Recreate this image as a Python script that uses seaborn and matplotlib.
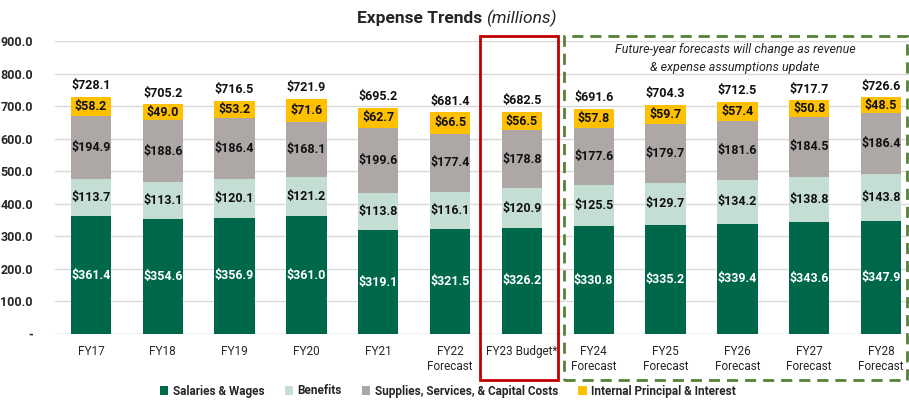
import numpy as np
import pandas as pd
import matplotlib
matplotlib.use("Agg")
import matplotlib.pyplot as plt
import seaborn as sns
from matplotlib.patches import Rectangle, Patch

# ---------------------------------------------------------------------------
# Data (millions)
# ---------------------------------------------------------------------------
years = ["FY17", "FY18", "FY19", "FY20", "FY21", "FY22\nForecast", "FY23 Budget*",
         "FY24\nForecast", "FY25\nForecast", "FY26\nForecast", "FY27\nForecast", "FY28\nForecast"]
salaries = [361.4, 354.6, 356.9, 361.0, 319.1, 321.5, 326.2, 330.8, 335.2, 339.4, 343.6, 347.9]
benefits = [113.7, 113.1, 120.1, 121.2, 113.8, 116.1, 120.9, 125.5, 129.7, 134.2, 138.8, 143.8]
supplies = [194.9, 188.6, 186.4, 168.1, 199.6, 177.4, 178.8, 177.6, 179.7, 181.6, 184.5, 186.4]
interest = [58.2, 49.0, 53.2, 71.6, 62.7, 66.5, 56.5, 57.8, 59.7, 57.4, 50.8, 48.5]
totals = [728.1, 705.2, 716.5, 721.9, 695.2, 681.4, 682.5, 691.6, 704.3, 712.5, 717.7, 726.6]

series = ["Salaries & Wages", "Benefits", "Supplies, Services, & Capital Costs",
          "Internal Principal & Interest"]
colors = ["#00684A", "#C5DED4", "#ADA8A6", "#FFC000"]
label_colors = ["white", "#111111", "#111111", "#111111"]

df = pd.DataFrame({"year": years, series[0]: salaries, series[1]: benefits,
                   series[2]: supplies, series[3]: interest})

sns.set_theme(style="white")
plt.rcParams["font.family"] = ["Roboto", "DejaVu Sans"]

fig = plt.figure(figsize=(9.09, 4.03), dpi=100)
ax = fig.add_axes([55 / 909, 1 - 334 / 403, 862 / 909, 293 / 403])

bottom = np.zeros(len(years))
for name, col, lc in zip(series, colors, label_colors):
    vals = df[name].to_numpy()
    sns.barplot(data=df, x="year", y=name, color=col, bottom=bottom,
                width=0.56, ax=ax, saturation=1, edgecolor="none", zorder=3)
    for i, v in enumerate(vals):
        ax.text(i, bottom[i] + v / 2, f"${v:.1f}", ha="center", va="center",
                color=lc, fontsize=9, fontweight="bold", zorder=4)
    bottom = bottom + vals

for i, t in enumerate(totals):
    ax.text(i, bottom[i] + 14, f"${t:.1f}", ha="center", va="bottom",
            color="#111111", fontsize=9, fontweight="bold")

ax.set_xlim(-0.5, len(years) - 0.5)
ax.set_ylim(0, 900)
ax.set_yticks(np.arange(0, 901, 100))
ax.set_yticklabels(["-"] + [f"{v:.1f}" for v in range(100, 901, 100)],
                   fontweight="bold", fontsize=9)
ax.tick_params(axis="x", labelsize=8.5, length=0, pad=8)
ax.tick_params(axis="y", length=0, pad=16)
ax.set_xlabel("")
ax.set_ylabel("")
ax.yaxis.grid(True, color="#D9D9D9", linewidth=1, zorder=0)
ax.set_axisbelow(True)
for s in ax.spines.values():
    s.set_visible(False)
ax.axhline(0, color="#D9D9D9", linewidth=1, zorder=1)

# Title
fig.text(0.535, 0.955, "Expense Trends ", ha="right", va="center",
         fontsize=12.5, fontweight="bold")
fig.text(0.535, 0.955, "(millions)", ha="left", va="center",
         fontsize=12.5, fontstyle="italic")

# Highlight boxes (figure coordinates)
fig.patches.append(Rectangle((480 / 909, 1 - 380 / 403), 78 / 909, 344 / 403,
                             transform=fig.transFigure, fill=False,
                             edgecolor="#C00000", linewidth=2))
fig.patches.append(Rectangle((564 / 909, 1 - 380 / 403), 343 / 909, 344 / 403,
                             transform=fig.transFigure, fill=False,
                             edgecolor="#548235", linewidth=2, linestyle=(0, (4, 2.5))))

fig.text(735 / 909, 1 - 50 / 403, "Future-year forecasts will change as revenue",
         ha="center", va="center", fontsize=9, fontstyle="italic")
fig.text(735 / 909, 1 - 68 / 403, "& expense assumptions update",
         ha="center", va="center", fontsize=9, fontstyle="italic")

# Legend
handles = [Patch(facecolor=c, edgecolor="none") for c in colors]
leg = fig.legend(handles, series, loc="center", bbox_to_anchor=(448 / 909, 1 - 391 / 403),
                 ncol=4, frameon=False, handlelength=0.7, handleheight=0.7,
                 handletextpad=0.4, columnspacing=1.7,
                 prop={"weight": "bold", "size": 8.5})

fig.savefig("out.png", dpi=100)
